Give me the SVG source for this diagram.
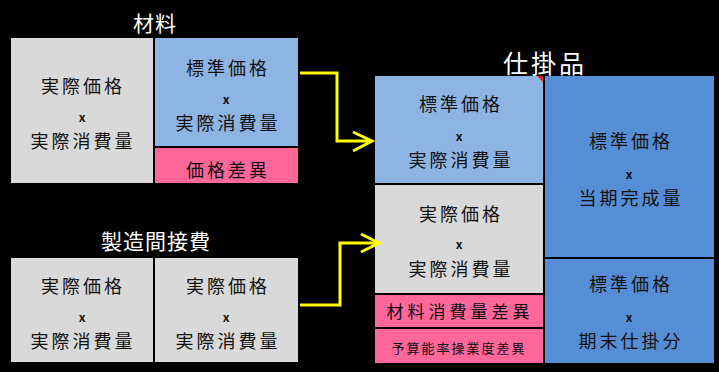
<svg xmlns="http://www.w3.org/2000/svg" width="719" height="372" viewBox="0 0 719 372">
<style>
text{font-family:"Noto Sans CJK JP","Noto Sans CJK SC",sans-serif;text-anchor:middle;dominant-baseline:central;fill:#111}
.t{font-size:18px;letter-spacing:3px}
.x{font-size:12px;font-weight:bold}
.h{fill:#fff;font-size:21px;letter-spacing:1px}
.grey{fill:#d9d9d9}
.lb{fill:#8db4e2}
.pk{fill:#ff6699}
.db{fill:#558ed5}
.arr{fill:none;stroke:#ffff00;stroke-width:3}
</style>
<rect width="719" height="372" fill="#000"/>
<g id="material">
<text class="h" x="155" y="22">材料</text>
<rect class="grey" x="11" y="38" width="142" height="145"/>
<text class="t" x="83" y="85">実際価格</text>
<text class="x" x="82" y="116">x</text>
<text class="t" x="83" y="140">実際消費量</text>
<rect class="lb" x="155" y="38" width="143" height="108"/>
<text class="t" x="228" y="67">標準価格</text>
<text class="x" x="226" y="98">x</text>
<text class="t" x="228" y="122">実際消費量</text>
<rect class="pk" x="155" y="148" width="143" height="35"/>
<text class="t" x="228" y="169">価格差異</text>
</g>
<g id="overhead">
<text class="h" x="156" y="240">製造間接費</text>
<rect class="grey" x="11" y="258" width="142" height="104"/>
<text class="t" x="83" y="285">実際価格</text>
<text class="x" x="82" y="316">x</text>
<text class="t" x="83" y="340">実際消費量</text>
<rect class="grey" x="155" y="258" width="143" height="104"/>
<text class="t" x="228" y="285">実際価格</text>
<text class="x" x="226" y="316">x</text>
<text class="t" x="228" y="340">実際消費量</text>
</g>
<g id="wip">
<text class="h" x="545" y="62" style="font-size:25px;letter-spacing:3px">仕掛品</text>
<rect class="lb" x="375" y="76" width="168" height="107"/>
<polygon points="537,76 543,76 543,82" fill="#e02020"/>
<text class="t" x="461" y="103">標準価格</text>
<text class="x" x="459" y="135">x</text>
<text class="t" x="461" y="159">実際消費量</text>
<rect class="grey" x="375" y="185" width="168" height="108"/>
<text class="t" x="461" y="213">実際価格</text>
<text class="x" x="459" y="243">x</text>
<text class="t" x="461" y="268">実際消費量</text>
<rect class="pk" x="375" y="295" width="168" height="32"/>
<text class="t" x="460" y="310" style="font-size:17px;letter-spacing:4px">材料消費量差異</text>
<rect class="pk" x="375" y="329" width="168" height="34"/>
<text x="459" y="347" style="font-size:13px;letter-spacing:2px">予算能率操業度差異</text>
<rect class="db" x="545" y="76" width="169" height="181"/>
<text class="t" x="631" y="140">標準価格</text>
<text class="x" x="629" y="173">x</text>
<text class="t" x="631" y="197">当期完成量</text>
<rect class="db" x="545" y="259" width="169" height="104"/>
<text class="t" x="631" y="283">標準価格</text>
<text class="x" x="629" y="316">x</text>
<text class="t" x="631" y="340">期末仕掛分</text>
</g>
<g id="connectors">
<polyline class="arr" points="300,73 337,73 337,141 372,141"/>
<polyline class="arr" points="353,132 372,141 353,151"/>
<polyline class="arr" points="300,305 340,305 340,243 379,243"/>
<polyline class="arr" points="361,234 379,243 361,252"/>
</g>
</svg>
